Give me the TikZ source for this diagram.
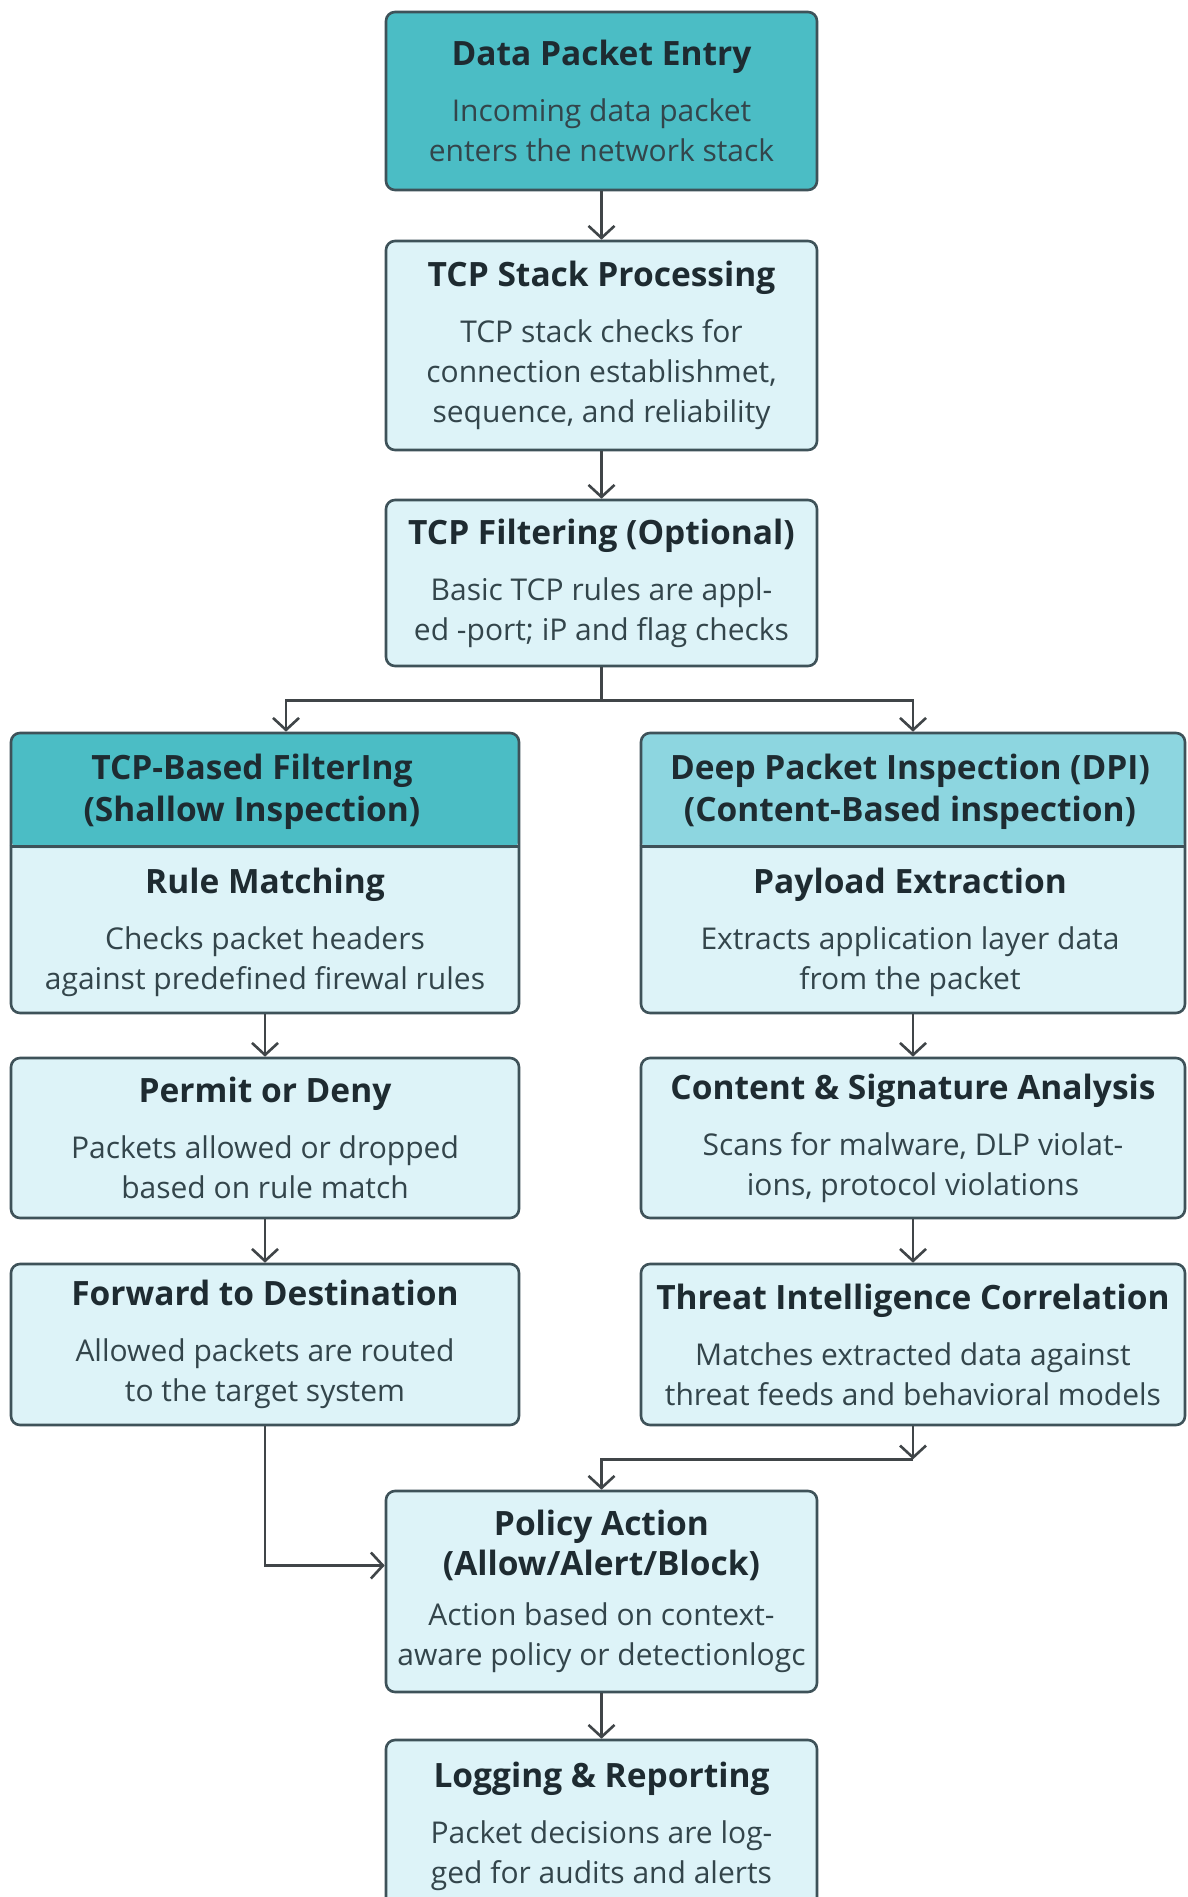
\documentclass[tikz,border=0pt]{standalone}
\usepackage{fontspec}
\setmainfont{Open Sans}
\usepackage{tikz}
\usetikzlibrary{arrows.meta, positioning, calc}
\definecolor{tealhd}{HTML}{4BBDC5}
\definecolor{tealsoft}{HTML}{8DD6E0}
\definecolor{icefill}{HTML}{DDF3F8}
\definecolor{edge}{HTML}{3E5259}
\definecolor{ink}{HTML}{1E2B31}
\definecolor{inksoft}{HTML}{33454B}
\definecolor{wire}{HTML}{404548}
\newcommand{\ttl}[1]{{\fontsize{33.5}{42}\selectfont\bfseries\color{ink}#1}}
\tikzset{
  stage/.style={rectangle, rounded corners=9pt, draw=edge, line width=2.6pt,
                fill=icefill, minimum width=431pt, align=center, inner sep=0pt,
                text=inksoft, font=\fontsize{30}{40}\selectfont},
  entrybox/.style={stage, fill=tealhd},
  sidebox/.style={stage, minimum width=508pt},
  widebox/.style={stage, minimum width=544pt},
  % outer frame of a branch, header band painted inside
  branch/.style={stage, minimum height=280pt,
                 path picture={\fill[#1] (path picture bounding box.north west)
                   rectangle ([yshift=-115pt]path picture bounding box.north east);}},
  txt/.style={align=center, inner sep=0pt, text=inksoft, font=\fontsize{30}{40}\selectfont},
  flow/.style={-{Straight Barb[length=12pt, width=26pt]}, line width=2.6pt, draw=wire},
  link/.style={line width=2.6pt, draw=wire}
}

\begin{document}
\begin{tikzpicture}[x=1pt, y=-1pt]
  \useasboundingbox[fill=white] (0,0) rectangle (1187,1897);

  % main spine
  \node[entrybox, minimum height=178pt] (entry) at (601.5,101)
       {\ttl{Data Packet Entry}\\[16pt]Incoming data packet\\enters the network stack};
  \node[stage, minimum height=209pt] (stack) at (601.5,345.5)
       {\ttl{TCP Stack Processing}\\[16pt]TCP stack checks for\\connection establishmet,\\sequence, and reliability};
  \node[stage, minimum height=166pt] (tcpfilter) at (601.5,583)
       {\ttl{TCP Filtering (Optional)}\\[16pt]Basic TCP rules are appl-\\ed -port; iP and flag checks};

  % the two branches
  \node[branch=tealhd, minimum width=508pt] (shallow) at (265,873) {};
  \node[branch=tealsoft, minimum width=544pt] (deep) at (913,873) {};
  \draw[link, draw=edge] ([yshift=-115pt]shallow.north west) -- ([yshift=-115pt]shallow.north east);
  \draw[link, draw=edge] ([yshift=-115pt]deep.north west) -- ([yshift=-115pt]deep.north east);
  \node[txt, text=ink, font=\fontsize{33.5}{42}\selectfont\bfseries] (shallowhd) at (252,792)
       {TCP-Based FilterIng\\(Shallow Inspection)};
  \node[txt, text=ink, font=\fontsize{33.5}{42}\selectfont\bfseries] (deephd) at (910,792)
       {Deep Packet Inspection (DPI)\\(Content-Based inspection)};
  \node[txt] (rulematch) at (265,932)
       {\ttl{Rule Matching}\\[16pt]Checks packet headers\\against predefined firewal rules};
  \node[txt] (payload) at (910,932)
       {\ttl{Payload Extraction}\\[16pt]Extracts application layer data\\from the packet};

  \node[sidebox, minimum height=160pt] (permit) at (265,1138)
       {\ttl{Permit or Deny}\\[16pt]Packets allowed or dropped\\based on rule match};
  \node[widebox, minimum height=160pt] (content) at (913,1138)
       {\ttl{Content \& Signature Analysis}\\[16pt]Scans for malware, DLP violat-\\ions, protocol violations};
  \node[sidebox, minimum height=161pt] (forward) at (265,1344.5)
       {\ttl{Forward to Destination}\\[16pt]Allowed packets are routed\\to the target system};
  \node[widebox, minimum height=161pt] (threat) at (913,1344.5)
       {\ttl{Threat Intelligence Correlation}\\[16pt]Matches extracted data against\\threat feeds and behavioral models};

  % joined again
  \node[stage, minimum height=201pt] (policy) at (601.5,1591.5)
       {\ttl{Policy Action}\\\ttl{(Allow/Alert/Block)}\\[10pt]Action based on context-\\aware policy or detectionlogc};
  \node[stage, minimum height=172pt] (logging) at (601.5,1826)
       {\ttl{Logging \& Reporting}\\[16pt]Packet decisions are log-\\ged for audits and alerts};

  \foreach \a/\b in {entry/stack, stack/tcpfilter, shallow/permit, permit/forward,
                     deep/content, content/threat, policy/logging}
    \draw[flow] (\a) -- (\b);

  \coordinate (split) at ($(tcpfilter.south)+(0,33)$);
  \draw[link] (tcpfilter.south) -- (split);
  \draw[flow] (split) -| ([xshift=21pt]shallow.north);
  \draw[flow] (split) -| (deep.north);

  \draw[flow] (threat.south) -- ++(0,33) coordinate (merge);
  \draw[flow] (merge) -| (policy.north);
  \draw[flow] (forward.south) |- ([yshift=26pt]policy.west);
\end{tikzpicture}
\end{document}
